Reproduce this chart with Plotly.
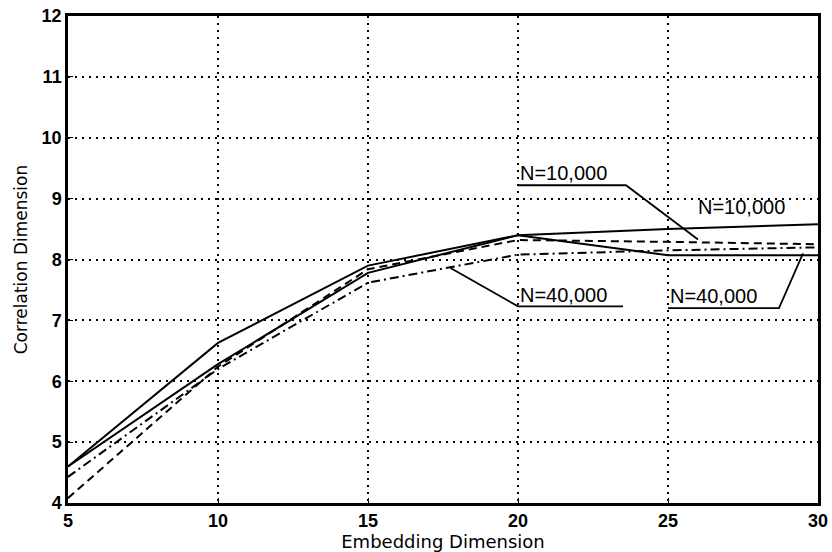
import plotly.graph_objects as go

embedding_dim = [5, 10, 15, 20, 25, 30]
solid_n10000 = [4.60, 6.63, 7.90, 8.40, 8.50, 8.58]
solid_n40000 = [4.60, 6.28, 7.78, 8.40, 8.07, 8.07]
dashed_n10000 = [4.08, 6.24, 7.84, 8.32, 8.29, 8.25]
dashdot_n40000 = [4.43, 6.20, 7.62, 8.08, 8.15, 8.20]

x_ticks = [5, 10, 15, 20, 25, 30]
y_ticks = [4, 5, 6, 7, 8, 9, 10, 11, 12]

FONT = "Liberation Sans, Arial, Helvetica, sans-serif"
TITLE_FONT = "DejaVu Sans, Liberation Sans, sans-serif"

fig = go.Figure()
series = [
    (solid_n10000, "solid"),
    (solid_n40000, "solid"),
    (dashed_n10000, "8px,5px"),
    (dashdot_n40000, "9px,4px,2px,4px"),
]
for ys, dash in series:
    fig.add_trace(go.Scatter(x=embedding_dim, y=ys, mode="lines",
                             line=dict(color="black", width=2, dash=dash),
                             showlegend=False))

# label leaders (underline + diagonal) in data coordinates
leaders = [
    [(20.0, 9.22), (23.6, 9.22), (26.0, 8.33)],
    [(17.75, 7.86), (20.0, 7.23), (23.5, 7.23)],
    [(25.0, 7.20), (28.7, 7.20), (29.5, 8.10)],
]
for pts in leaders:
    fig.add_trace(go.Scatter(x=[p[0] for p in pts], y=[p[1] for p in pts], mode="lines",
                             line=dict(color="black", width=1.8), showlegend=False,
                             hoverinfo="skip"))

labels = [
    ("N=10,000", 20.0, 9.42, "left"),
    ("N=10,000", 27.45, 8.86, "center"),
    ("N=40,000", 20.0, 7.42, "left"),
    ("N=40,000", 25.0, 7.40, "left"),
]
for text, x, y, anchor in labels:
    fig.add_annotation(x=x, y=y, text=text, showarrow=False, xanchor=anchor,
                       yanchor="middle", font=dict(family=FONT, size=20, color="black"))

axis_common = dict(showgrid=True, gridcolor="black", griddash="2px,5px", gridwidth=1.5,
                   showline=True, linecolor="black", linewidth=2.5, mirror=True,
                   ticks="inside", ticklen=5, tickcolor="black", zeroline=False,
                   automargin=False,
                   tickfont=dict(family=FONT, size=18, color="black", weight="bold"))

fig.update_xaxes(range=[5, 30], tickvals=x_ticks, ticktext=[str(v) for v in x_ticks],
                 title=dict(text="Embedding Dimension", standoff=1,
                            font=dict(family=TITLE_FONT, size=18, color="black")),
                 **axis_common)
fig.update_yaxes(range=[4, 12], tickvals=y_ticks, ticktext=[str(v) for v in y_ticks],
                 title=dict(text="Correlation Dimension", standoff=10,
                            font=dict(family=TITLE_FONT, size=17, color="black")),
                 **axis_common)

fig.update_layout(width=832, height=552, margin=dict(l=68, r=14, t=16, b=49),
                  paper_bgcolor="white", plot_bgcolor="white")

fig.write_html("out.html")
